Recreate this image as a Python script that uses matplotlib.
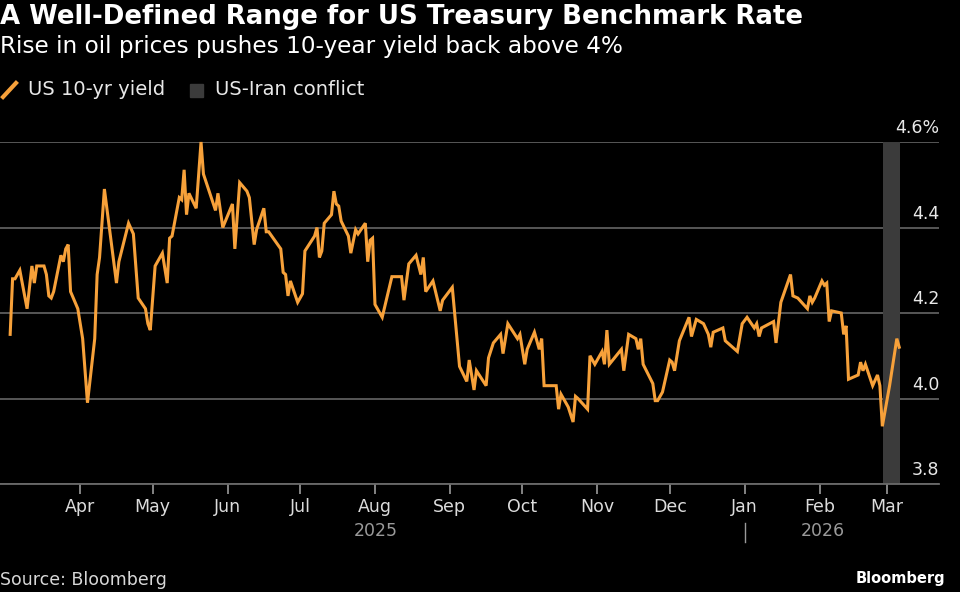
import matplotlib
matplotlib.use("Agg")
import matplotlib.pyplot as plt
import matplotlib.dates as mdates
from matplotlib.lines import Line2D
from matplotlib.patches import Rectangle
import pandas as pd

# US 10-year yield
dates = [
    "2025-03-03", "2025-03-04", "2025-03-05", "2025-03-07", "2025-03-10", "2025-03-12", "2025-03-13",
    "2025-03-14", "2025-03-17", "2025-03-18", "2025-03-19", "2025-03-20", "2025-03-21", "2025-03-24",
    "2025-03-25", "2025-03-26", "2025-03-27", "2025-03-28", "2025-03-31",
    "2025-04-02", "2025-04-04", "2025-04-07", "2025-04-08", "2025-04-09", "2025-04-11", "2025-04-16",
    "2025-04-17", "2025-04-21", "2025-04-23", "2025-04-25", "2025-04-28", "2025-04-29", "2025-04-30",
    "2025-05-02", "2025-05-05", "2025-05-07", "2025-05-08", "2025-05-09", "2025-05-12", "2025-05-13",
    "2025-05-14", "2025-05-15", "2025-05-16", "2025-05-19", "2025-05-21", "2025-05-22", "2025-05-27",
    "2025-05-28", "2025-05-30",
    "2025-06-03", "2025-06-04", "2025-06-06", "2025-06-09", "2025-06-10", "2025-06-12", "2025-06-13",
    "2025-06-16", "2025-06-17", "2025-06-18", "2025-06-23", "2025-06-24", "2025-06-25", "2025-06-26",
    "2025-06-27", "2025-06-30",
    "2025-07-02", "2025-07-03", "2025-07-07", "2025-07-08", "2025-07-09", "2025-07-10", "2025-07-11",
    "2025-07-14", "2025-07-15", "2025-07-16", "2025-07-17", "2025-07-18", "2025-07-21", "2025-07-22",
    "2025-07-24", "2025-07-25", "2025-07-28", "2025-07-29", "2025-07-30", "2025-07-31",
    "2025-08-01", "2025-08-04", "2025-08-08", "2025-08-12", "2025-08-13", "2025-08-15", "2025-08-18",
    "2025-08-20", "2025-08-21", "2025-08-22", "2025-08-25", "2025-08-28", "2025-08-29",
    "2025-09-02", "2025-09-05", "2025-09-08", "2025-09-09", "2025-09-11", "2025-09-12", "2025-09-16",
    "2025-09-17", "2025-09-19", "2025-09-22", "2025-09-23", "2025-09-25", "2025-09-29", "2025-09-30",
    "2025-10-02", "2025-10-03", "2025-10-06", "2025-10-08", "2025-10-09", "2025-10-10", "2025-10-15",
    "2025-10-16", "2025-10-17", "2025-10-20", "2025-10-22", "2025-10-23", "2025-10-24", "2025-10-28",
    "2025-10-29", "2025-10-31",
    "2025-11-03", "2025-11-04", "2025-11-05", "2025-11-06", "2025-11-11", "2025-11-12", "2025-11-14",
    "2025-11-17", "2025-11-18", "2025-11-19", "2025-11-20", "2025-11-24", "2025-11-25", "2025-11-26",
    "2025-11-28",
    "2025-12-01", "2025-12-02", "2025-12-03", "2025-12-05", "2025-12-09", "2025-12-10", "2025-12-12",
    "2025-12-15", "2025-12-17", "2025-12-18", "2025-12-19", "2025-12-23", "2025-12-24", "2025-12-29",
    "2025-12-31",
    "2026-01-02", "2026-01-05", "2026-01-06", "2026-01-07", "2026-01-08", "2026-01-13", "2026-01-14",
    "2026-01-16", "2026-01-20", "2026-01-21", "2026-01-23", "2026-01-27", "2026-01-28", "2026-01-29",
    "2026-01-30",
    "2026-02-02", "2026-02-03", "2026-02-04", "2026-02-05", "2026-02-06", "2026-02-10", "2026-02-11",
    "2026-02-12", "2026-02-13", "2026-02-17", "2026-02-18", "2026-02-19", "2026-02-20", "2026-02-23",
    "2026-02-25", "2026-02-26", "2026-02-27",
    "2026-03-02", "2026-03-05", "2026-03-06",
]
yields = [
    4.15, 4.28, 4.28, 4.30, 4.21, 4.31, 4.27,
    4.31, 4.31, 4.29, 4.24, 4.235, 4.25, 4.335,
    4.32, 4.35, 4.36, 4.25, 4.21,
    4.14, 3.99, 4.14, 4.29, 4.33, 4.49, 4.27,
    4.32, 4.41, 4.385, 4.235, 4.21, 4.175, 4.16,
    4.31, 4.34, 4.27, 4.375, 4.38, 4.47, 4.465,
    4.535, 4.43, 4.48, 4.445, 4.60, 4.525, 4.44,
    4.48, 4.40,
    4.455, 4.35, 4.505, 4.485, 4.47, 4.36, 4.395,
    4.445, 4.39, 4.39, 4.35, 4.295, 4.29, 4.24,
    4.275, 4.225,
    4.245, 4.345, 4.38, 4.40, 4.33, 4.345, 4.41,
    4.43, 4.485, 4.455, 4.45, 4.415, 4.38, 4.34,
    4.395, 4.385, 4.41, 4.32, 4.37, 4.375,
    4.22, 4.19, 4.285, 4.285, 4.23, 4.315, 4.335,
    4.29, 4.33, 4.25, 4.275, 4.205, 4.23,
    4.26, 4.075, 4.04, 4.09, 4.02, 4.065, 4.03,
    4.095, 4.13, 4.15, 4.105, 4.175, 4.14, 4.15,
    4.08, 4.115, 4.155, 4.115, 4.14, 4.03, 4.03,
    3.975, 4.01, 3.98, 3.945, 4.005, 4.00, 3.975,
    4.10, 4.08,
    4.11, 4.08, 4.16, 4.08, 4.115, 4.065, 4.15,
    4.14, 4.115, 4.14, 4.08, 4.035, 3.995, 3.995,
    4.015,
    4.09, 4.085, 4.065, 4.135, 4.19, 4.145, 4.185,
    4.175, 4.15, 4.12, 4.155, 4.165, 4.135, 4.11,
    4.175,
    4.19, 4.165, 4.175, 4.145, 4.165, 4.18, 4.13,
    4.225, 4.29, 4.24, 4.235, 4.21, 4.24, 4.225,
    4.235,
    4.275, 4.265, 4.27, 4.18, 4.205, 4.20, 4.15,
    4.17, 4.045, 4.055, 4.085, 4.065, 4.08, 4.03,
    4.055, 4.03, 3.935,
    4.03, 4.14, 4.12,
]

conflict_start = "2026-02-27 08:00"
conflict_end = "2026-03-06 12:00"

month_ticks = pd.date_range("2025-04-01", "2026-03-01", freq="MS")
yticks = [3.8, 4.0, 4.2, 4.4, 4.6]
ytick_labels = ["3.8", "4.0", "4.2", "4.4", "4.6%"]

orange = "#f7a13a"
grid_gray = "#5e5e5e"
band_gray = "#3b3b3b"

x = pd.to_datetime(dates)

fig = plt.figure(figsize=(9.6, 5.92), dpi=100, facecolor="black")
ax = fig.add_axes([0.0, 108 / 592, 939.3 / 960, 342 / 592])
ax.set_facecolor("black")

ax.axvspan(pd.Timestamp(conflict_start), pd.Timestamp(conflict_end), color=band_gray, lw=0, zorder=1)
ax.plot(x, yields, color=orange, lw=2.2, zorder=3, clip_on=False, solid_joinstyle="miter")

ax.set_xlim(pd.Timestamp("2025-02-26 19:00"), pd.Timestamp("2026-03-22 14:00"))
ax.set_ylim(3.8, 4.6)

ax.set_yticks(yticks)
ax.yaxis.grid(True, color=grid_gray, lw=1.3)
ax.set_axisbelow(True)
ax.tick_params(axis="y", length=0, labelleft=False)
for v, lab in zip(yticks, ytick_labels):
    ax.annotate(lab, xy=(1.0, v), xycoords=("axes fraction", "data"),
                xytext=(0, 3.5), textcoords="offset points",
                ha="right", va="bottom", color="#e8e8e8", fontsize=12.5)

for s in ["top", "right", "left"]:
    ax.spines[s].set_visible(False)
ax.spines["bottom"].set_color("#6a6a6a")
ax.spines["bottom"].set_linewidth(1.3)

ax.set_xticks(month_ticks)
ax.xaxis.set_major_formatter(mdates.DateFormatter("%b"))
ax.tick_params(axis="x", direction="out", length=7, width=1.2, color="#9a9a9a",
               labelcolor="#dcdcdc", labelsize=12.5, pad=3)

# year labels centred on each year's share of the data
for yr in [2025, 2026]:
    sel = x[x.year == yr]
    mid = sel.min() + (sel.max() - sel.min()) / 2
    ax.annotate(str(yr), xy=(mid, 0), xycoords=("data", "axes fraction"),
                xytext=(0, -34), textcoords="offset points",
                ha="center", va="center", color="#9a9a9a", fontsize=12.5)
ax.add_line(Line2D([mdates.date2num(pd.Timestamp("2026-01-01"))] * 2,
                   [-39 / 342, -58 / 342], transform=ax.get_xaxis_transform(),
                   color="#9a9a9a", lw=1.0, clip_on=False))

# titles
fig.text(0.0, 1 - 17 / 592, "A Well-Defined Range for US Treasury Benchmark Rate",
         color="white", fontsize=18.7, fontweight="bold", ha="left", va="center")
fig.text(0.0, 1 - 47 / 592, "Rise in oil prices pushes 10-year yield back above 4%",
         color="white", fontsize=16.7, ha="left", va="center")

# legend
fig.add_artist(Line2D([3 / 960, 16 / 960], [1 - 97 / 592, 1 - 83 / 592], color=orange, lw=3,
                      transform=fig.transFigure))
fig.text(28 / 960, 1 - 90 / 592, "US 10-yr yield", color="#e8e8e8", fontsize=14,
         ha="left", va="center")
fig.add_artist(Rectangle((190 / 960, 1 - 97 / 592), 13 / 960, 13 / 592, color=band_gray,
                         transform=fig.transFigure))
fig.text(215 / 960, 1 - 90 / 592, "US-Iran conflict", color="#e8e8e8", fontsize=14,
         ha="left", va="center")

# footer
fig.text(0.0, 1 - 580 / 592, "Source: Bloomberg", color="#d8d8d8", fontsize=12.5,
         ha="left", va="center")
fig.text(945 / 960, 1 - 578 / 592, "Bloomberg", color="white", fontsize=10.5,
         fontweight="bold", ha="right", va="center")

fig.savefig("out.png", dpi=100, facecolor="black")
